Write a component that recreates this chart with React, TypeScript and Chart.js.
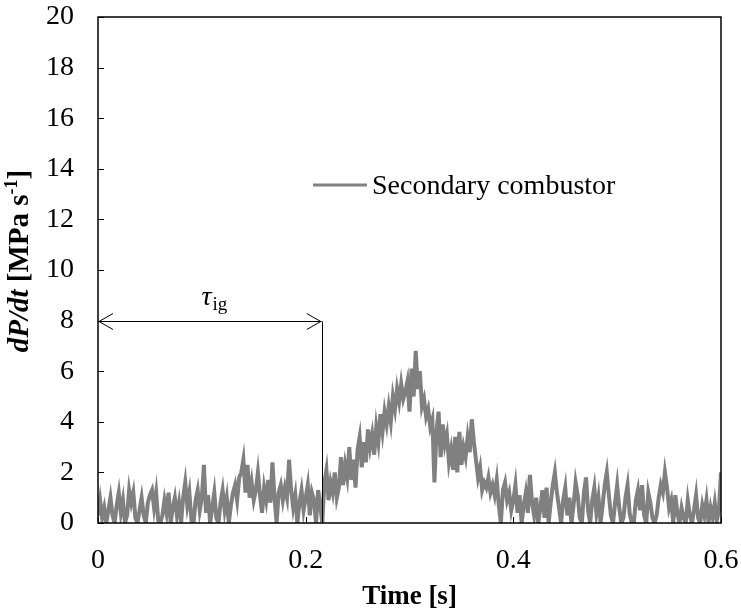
import React, { useEffect, useRef } from "react";
import { Chart, registerables } from "chart.js";

Chart.register(...registerables);

// Sample spacing of the trace [s]
const T_STEP = 0.002;

// dP/dt of the secondary combustor [MPa s^-1] (t = 0 ... 0.6 s)
const dPdt = [
  0.3, 0.9, 0.2, 0.6, 0.0, 0.5, 1.0, 0.3, 0.0, 0.7,
  1.2, 0.4, 0.9, 0.0, 0.3, 1.3, 0.8, 1.2, 0.2, 0.0,
  0.5, 1.0, 0.3, 0.0, 0.8, 1.1, 1.3, 0.6, 1.2, 0.1,
  0.0, 0.3, 0.9, 0.4, 1.2, 0.0, 0.6, 1.0, 0.3, 0.8,
  0.0, 1.0, 1.6, 0.7, 1.2, 0.1, 0.0, 0.9, 1.3, 0.5,
  1.0, 2.3, 0.4, 1.1, 0.0, 0.6, 1.2, 0.2, 0.0, 0.8,
  1.3, 0.5, 1.0, 0.0, 0.7, 1.2, 1.5, 0.9, 1.8, 2.0,
  2.5, 1.2, 2.3, 1.0, 1.6, 0.9, 1.3, 2.0, 1.1, 0.4,
  1.4, 0.9, 1.7, 0.8, 2.4, 1.0, 0.0, 1.2, 1.5, 0.9,
  1.4, 1.0, 2.5, 1.3, 0.6, 1.1, 0.0, 0.8, 1.3, 0.5,
  1.0, 1.5, 0.3, 1.2, 0.9, 0.0, 1.3, 0.7, 0.0, 1.6,
  2.1, 0.9, 1.6, 1.2, 2.0, 1.0, 1.4, 2.6, 1.5, 2.3,
  1.8, 3.0, 1.7, 2.5, 1.4, 2.9, 3.4, 2.2, 3.2, 2.4,
  3.7, 3.0, 3.5, 2.7, 3.8, 3.2, 4.3, 3.6, 4.4, 3.9,
  4.6, 4.0, 5.0, 4.5, 5.3, 4.8, 5.5, 4.9, 5.2, 5.6,
  4.4, 6.1, 5.0, 6.8, 5.3, 6.0, 4.6, 4.9, 4.2, 4.5,
  3.8, 4.1, 1.6, 3.6, 4.4, 2.6, 3.9, 3.1, 3.5, 2.4,
  2.9, 2.1, 3.4, 2.0, 3.6, 2.3, 3.0, 2.6, 3.4, 2.8,
  4.1, 3.2, 2.5, 1.8, 2.2, 1.3, 1.6, 1.4, 1.8, 1.2,
  1.5, 1.1, 1.7, 0.7, 0.0, 1.3, 1.6, 0.9, 1.2, 0.5,
  0.9, 1.5, 0.4, 1.1, 0.0, 0.7, 1.2, 0.4, 1.9, 0.8,
  0.3, 1.0, 0.0, 0.6, 1.3, 0.2, 1.4, 0.0, 0.8, 1.5,
  2.0, 1.2, 0.6, 0.0, 0.9, 1.4, 0.3, 1.0, 0.0, 0.7,
  1.6, 1.1, 0.2, 0.0, 1.2, 1.8, 0.5, 0.0, 0.9, 1.4,
  0.4, 1.0, 0.0, 0.7, 1.5, 2.0, 1.1, 0.3, 0.0, 0.8,
  1.5, 0.6, 0.0, 0.2, 1.0, 1.5, 0.4, 0.0, 0.0, 0.9,
  1.3, 0.5, 1.5, 0.3, 0.0, 1.2, 0.8, 0.2, 0.0, 0.3,
  1.0, 1.5, 1.2, 2.0, 1.4, 0.6, 0.9, 0.0, 1.1, 0.4,
  0.0, 0.6, 0.2, 0.0, 0.9, 0.3, 0.0, 0.5, 1.1, 0.2,
  0.0, 0.7, 0.3, 0.9, 0.0, 0.6, 0.2, 0.8, 0.1, 0.5,
  2.0,
];

const xTicks = [0, 0.2, 0.4, 0.6];
const yTicks = [0, 2, 4, 6, 8, 10, 12, 14, 16, 18, 20];
const seriesLabel = "Secondary combustor";
const tauIg = 0.2155; // ignition delay [s]
const arrowLevel = 8; // height of the τig arrow [MPa s^-1]

const FONT = '"Liberation Serif", "Times New Roman", serif';
const FS = 28;
const LINE_COLOR = "#808080";

export default function App() {
  const ref = useRef<HTMLCanvasElement>(null);

  useEffect(() => {
    if (!ref.current) return;
    const points = dPdt.map((v, i) => ({ x: +(i * T_STEP).toFixed(3), y: v }));

    const deco = {
      id: "deco",
      afterDatasetsDraw(chart: any) {
        const { ctx, chartArea: a, scales } = chart;
        const xs = scales.x;
        const ys = scales.y;
        ctx.save();
        ctx.strokeStyle = "#000";
        ctx.fillStyle = "#000";

        // frame
        ctx.lineWidth = 1.5;
        ctx.strokeRect(a.left, a.top, a.right - a.left, a.bottom - a.top);

        // inward tick marks
        ctx.lineWidth = 1;
        yTicks.forEach((v) => {
          const y = Math.round(ys.getPixelForValue(v)) + 0.5;
          ctx.beginPath();
          ctx.moveTo(a.left, y);
          ctx.lineTo(a.left + 6, y);
          ctx.stroke();
        });
        xTicks.forEach((v) => {
          const x = Math.round(xs.getPixelForValue(v)) + 0.5;
          ctx.beginPath();
          ctx.moveTo(x, a.bottom);
          ctx.lineTo(x, a.bottom - 6);
          ctx.stroke();
        });

        // τig arrow
        const x0 = xs.getPixelForValue(0);
        const x1 = xs.getPixelForValue(tauIg);
        const yA = Math.round(ys.getPixelForValue(arrowLevel)) + 0.5;
        const yB = ys.getPixelForValue(0);
        ctx.lineWidth = 1;
        ctx.beginPath();
        ctx.moveTo(x0, yA);
        ctx.lineTo(x1, yA);
        ctx.stroke();
        ctx.beginPath();
        ctx.moveTo(Math.round(x1) + 0.5, yA);
        ctx.lineTo(Math.round(x1) + 0.5, yB);
        ctx.stroke();
        const head = 15, hw = 8;
        ctx.beginPath();
        ctx.moveTo(x0 + head, yA - hw);
        ctx.lineTo(x0 + 1, yA);
        ctx.lineTo(x0 + head, yA + hw);
        ctx.moveTo(x1 - head, yA - hw);
        ctx.lineTo(x1 - 1, yA);
        ctx.lineTo(x1 - head, yA + hw);
        ctx.stroke();

        // τig label
        const cx = (x0 + x1) / 2 + 4;
        ctx.textBaseline = "alphabetic";
        ctx.font = `italic ${FS}px ${FONT}`;
        const wT = ctx.measureText("τ").width;
        ctx.font = `19px ${FONT}`;
        const wS = ctx.measureText("ig").width;
        const sx = cx - (wT + wS) / 2;
        ctx.font = `italic ${FS}px ${FONT}`;
        ctx.textAlign = "left";
        ctx.fillText("τ", sx, yA - 17);
        ctx.font = `19px ${FONT}`;
        ctx.fillText("ig", sx + wT + 1, yA - 12);

        // legend
        ctx.strokeStyle = LINE_COLOR;
        ctx.lineWidth = 3;
        ctx.beginPath();
        ctx.moveTo(313, 185);
        ctx.lineTo(367, 185);
        ctx.stroke();
        ctx.font = `${FS}px ${FONT}`;
        ctx.textBaseline = "middle";
        ctx.fillText(seriesLabel, 372, 187);

        // x title
        ctx.font = `bold 27px ${FONT}`;
        ctx.textAlign = "center";
        ctx.fillText("Time [s]", (a.left + a.right) / 2, 597);

        // y title (rotated)
        ctx.translate(21, 261);
        ctx.rotate(-Math.PI / 2);
        const parts = [
          { t: "dP/dt", f: `bold italic 29px ${FONT}`, dy: 0 },
          { t: " [MPa s", f: `bold 29px ${FONT}`, dy: 0 },
          { t: "-1", f: `bold 18px ${FONT}`, dy: -9 },
          { t: "]", f: `bold 29px ${FONT}`, dy: 0 },
        ];
        let total = 0;
        parts.forEach((p) => {
          ctx.font = p.f;
          total += ctx.measureText(p.t).width;
        });
        let px = -total / 2;
        ctx.textAlign = "left";
        ctx.textBaseline = "middle";
        parts.forEach((p) => {
          ctx.font = p.f;
          ctx.fillText(p.t, px, p.dy);
          px += ctx.measureText(p.t).width;
        });
        ctx.restore();
      },
    };

    const chart = new Chart(ref.current, {
      type: "line",
      data: {
        datasets: [
          {
            label: seriesLabel,
            data: points,
            borderColor: LINE_COLOR,
            borderWidth: 4,
            pointRadius: 0,
            tension: 0,
            fill: false,
          },
        ],
      },
      options: {
        animation: false,
        responsive: true,
        maintainAspectRatio: false,
        layout: { padding: { left: 0, right: 20, top: 17, bottom: 0 } },
        plugins: { legend: { display: false }, tooltip: { enabled: false } },
        scales: {
          x: {
            type: "linear",
            min: 0,
            max: 0.6,
            grid: { display: false },
            border: { display: false },
            afterBuildTicks: (s: any) => {
              s.ticks = xTicks.map((v) => ({ value: v }));
            },
            afterFit: (s: any) => {
              s.height = 91;
              s.paddingLeft = 0;
              s.paddingRight = 0;
              s.paddingTop = 0;
              s.paddingBottom = 0;
            },
            ticks: {
              color: "#000",
              font: { family: FONT, size: FS },
              padding: 13,
              maxRotation: 0,
              autoSkip: false,
              callback: (v: any) => String(+Number(v).toFixed(1)),
            },
          },
          y: {
            type: "linear",
            min: 0,
            max: 20,
            grid: { display: false },
            border: { display: false },
            afterBuildTicks: (s: any) => {
              s.ticks = yTicks.map((v) => ({ value: v }));
            },
            afterFit: (s: any) => {
              s.width = 98;
              s.paddingLeft = 0;
              s.paddingRight = 0;
              s.paddingTop = 0;
              s.paddingBottom = 0;
            },
            ticks: {
              color: "#000",
              font: { family: FONT, size: FS },
              padding: 16,
              autoSkip: false,
              callback: (v: any) => String(v),
            },
          },
        },
      },
      plugins: [deco],
    });
    return () => chart.destroy();
  }, []);

  return (
    <div style={{ position: "fixed", left: 0, top: 0, width: 741, height: 614, background: "#fff" }}>
      <canvas ref={ref} />
    </div>
  );
}
